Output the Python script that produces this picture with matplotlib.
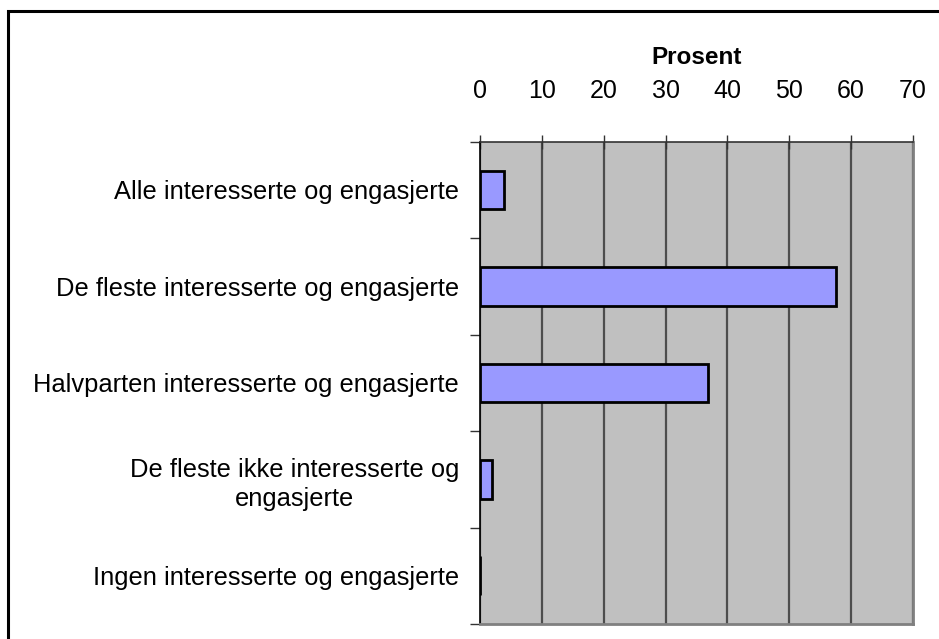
import matplotlib
matplotlib.use("Agg")
import matplotlib.pyplot as plt
from matplotlib.patches import Rectangle
from matplotlib.ticker import FixedLocator

categories = [
    "Alle interesserte og engasjerte",
    "De fleste interesserte og engasjerte",
    "Halvparten interesserte og engasjerte",
    "De fleste ikke interesserte og\nengasjerte",
    "Ingen interesserte og engasjerte",
]
values = [3.9, 57.5, 36.8, 2.0, 0.0]
xticks = [0, 10, 20, 30, 40, 50, 60, 70]
xlabel = "Prosent"

plt.rcParams['font.family'] = ['Liberation Sans', 'DejaVu Sans']

fig = plt.figure(figsize=(9.39, 6.39), dpi=100)
ax = fig.add_axes([480/939, 1-624/639, (913-480)/939, (624-141.7)/639])
ax.set_facecolor('#C0C0C0')

y = list(range(len(categories)))
ax.barh(y, values, height=0.4, color='#9999FF', edgecolor='black', linewidth=2, zorder=3)

ax.set_xlim(0, 70)
ax.set_ylim(len(categories) - 0.5, -0.5)

ax.xaxis.tick_top()
ax.xaxis.set_label_position('top')
ax.set_xticks(xticks)
ax.set_xticklabels([str(t) for t in xticks], fontsize=18)
ax.tick_params(axis='x', direction='inout', length=10, width=1, color='#333333', pad=23)
ax.set_xlabel(xlabel, fontsize=17.5, fontweight='bold', labelpad=11)
ax.grid(axis='x', color='#4d4d4d', linewidth=1.6, zorder=1)

ax.set_yticks(y)
ax.set_yticklabels(categories, fontsize=18.4)
for lbl in ax.get_yticklabels():
    lbl.set_multialignment('center')
    lbl.set_linespacing(1.25)
ax.tick_params(axis='y', which='major', length=0, pad=15)
ax.yaxis.set_minor_locator(FixedLocator([i + 0.5 for i in range(-1, len(categories))]))
ax.tick_params(axis='y', which='minor', length=7, width=1, color='#333333', direction='out')

ax.spines['left'].set_color('black')
ax.spines['left'].set_linewidth(1.2)
ax.spines['top'].set_color('#333333')
ax.spines['top'].set_linewidth(1.2)
ax.spines['right'].set_color('#808080')
ax.spines['right'].set_linewidth(2)
ax.spines['bottom'].set_color('#808080')
ax.spines['bottom'].set_linewidth(2)

border = Rectangle((8/939, -0.05), 1.1, 1 - 11/639 + 0.05, transform=fig.transFigure,
                   fill=False, edgecolor='black', linewidth=2.2, clip_on=False)
fig.patches.append(border)

fig.savefig('out.png', dpi=100, facecolor='white')
